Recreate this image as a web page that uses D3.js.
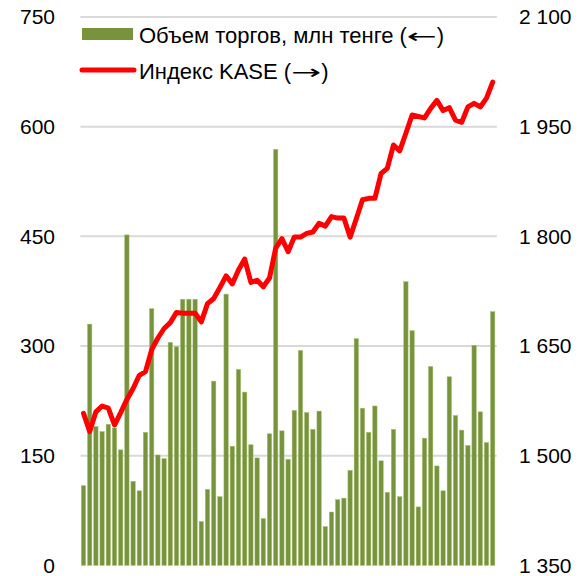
<!DOCTYPE html>
<html>
<head>
<meta charset="utf-8">
<script src="https://d3js.org/d3.v7.min.js"></script>
<style>
	body { margin: 0; background: #ffffff; }
	svg { display: block; }
	text { font-family: "Liberation Sans", Arial, sans-serif; fill: #000000; }
</style>
</head>
<body>
<svg id="chart"></svg>
<script>
// data: trading volume (left axis) and KASE index (right axis)
var volume = [109, 330, 190, 183, 193, 188, 158, 452, 115, 102,
	182, 351, 151, 146, 305, 299, 364, 364, 364, 60,
	104, 252, 94, 371, 163, 268, 237, 165, 147, 64,
	180, 569, 184, 145, 212, 294, 209, 186, 211, 53,
	73, 90, 92, 130, 310, 215, 182, 218, 143, 100,
	186, 94, 388, 321, 80, 174, 272, 136, 102, 258,
	205, 185, 164, 301, 210, 168, 347];

var kase = [1558, 1533, 1560, 1568, 1565, 1542, 1559, 1577, 1592, 1610,
	1615, 1645, 1661, 1674, 1682, 1696, 1695, 1695, 1695, 1683,
	1708, 1715, 1730, 1746, 1735, 1754, 1769, 1737, 1740, 1731,
	1743, 1784, 1797, 1779, 1799, 1799, 1804, 1806, 1818, 1814,
	1827, 1825, 1825, 1799, 1824, 1850, 1852, 1852, 1886, 1893,
	1925, 1917, 1941, 1966, 1964, 1962, 1975, 1986, 1972, 1976,
	1959, 1956, 1977, 1982, 1977, 1989, 2011];

var leftTicks = [0, 150, 300, 450, 600, 750];
var rightTicks = [1350, 1500, 1650, 1800, 1950, 2100];

// legend labels split around the arrow so the arrow can be stretched
var legendLabels = [
	["Объем торгов, млн тенге (", "←", ")"],
	["Индекс KASE (", "→", ")"]
];

const width = 584;
const height = 576;
const margin = {top: 17, bottom: 10.6, left: 80.4, right: 88.2};

var svg = d3.select("#chart")
	.attr("width", width)
	.attr("height", height);

var x = d3.scaleBand()
	.domain(d3.range(volume.length))
	.range([margin.left, width - margin.right])
	.paddingInner(0.3)
	.paddingOuter(0.15);

var yLeft = d3.scaleLinear()
	.domain([0, 750])
	.range([height - margin.bottom, margin.top]);

var yRight = d3.scaleLinear()
	.domain([1350, 2100])
	.range([height - margin.bottom, margin.top]);

// gridlines
svg.append("g")
	.attr("class", "grid")
	.selectAll("line")
	.data(leftTicks.slice(1))
	.enter()
	.append("line")
		.attr("x1", margin.left)
		.attr("x2", width - margin.right + 1)
		.attr("y1", d => yLeft(d))
		.attr("y2", d => yLeft(d))
		.attr("stroke", "#d9d9d9")
		.attr("stroke-width", 2);

// axes (labels only)
var yAxisLeft = d3.axisLeft(yLeft)
	.tickValues(leftTicks)
	.tickSize(0)
	.tickPadding(0);

var yAxisRight = d3.axisRight(yRight)
	.tickValues(rightTicks)
	.tickSize(0)
	.tickPadding(0)
	.tickFormat(d => d3.format(",")(d).replace(",", " "));

svg.append("g")
	.attr("class", "y_axis_left")
	.attr("transform", "translate(55,0)")
	.call(yAxisLeft)
	.call(g => g.select(".domain").remove());

svg.append("g")
	.attr("class", "y_axis_right")
	.attr("transform", "translate(519,0)")
	.call(yAxisRight)
	.call(g => g.select(".domain").remove());

svg.selectAll(".y_axis_left text, .y_axis_right text")
	.attr("font-size", 21)
	.attr("font-family", "Liberation Sans, Arial, sans-serif")
	.attr("fill", "#000");

// bars
svg.append("g")
	.attr("class", "bars")
	.selectAll("rect")
	.data(volume)
	.enter()
	.append("rect")
		.attr("x", (d, i) => x(i))
		.attr("y", d => yLeft(d))
		.attr("width", x.bandwidth())
		.attr("height", d => yLeft(0) - yLeft(d))
		.attr("fill", "#77933c")
		.attr("stroke", "#a3bd72")
		.attr("stroke-width", 0.5);

// index line
var line = d3.line()
	.x((d, i) => x(i) + x.bandwidth() / 2)
	.y(d => yRight(d));

svg.append("path")
	.datum(kase)
	.attr("class", "dataLine")
	.attr("fill", "none")
	.attr("stroke", "#ff0000")
	.attr("stroke-width", 5)
	.attr("stroke-linejoin", "round")
	.attr("stroke-linecap", "round")
	.attr("d", line);

// legend
var legend = svg.append("g").attr("class", "legend");

legend.append("rect")
	.attr("x", 82)
	.attr("y", 28)
	.attr("width", 51)
	.attr("height", 12)
	.attr("fill", "#77933c");

legend.append("line")
	.attr("x1", 82)
	.attr("x2", 134)
	.attr("y1", 70)
	.attr("y2", 70)
	.attr("stroke", "#ff0000")
	.attr("stroke-width", 5)
	.attr("stroke-linecap", "round");

var legendText = legend.selectAll("text")
	.data(legendLabels)
	.enter()
	.append("text")
		.attr("x", 139)
		.attr("y", (d, i) => 35 + i * 36)
		.attr("dy", "0.35em")
		.attr("font-size", 22);

legendText.each(function(parts) {
	var t = d3.select(this);
	t.append("tspan").text(parts[0]);
	t.append("tspan")
		.attr("font-family", "DejaVu Sans, sans-serif")
		.attr("font-size", 20)
		.attr("textLength", 30)
		.attr("lengthAdjust", "spacingAndGlyphs")
		.text(parts[1]);
	t.append("tspan").text(parts[2]);
});
</script>
</body>
</html>
